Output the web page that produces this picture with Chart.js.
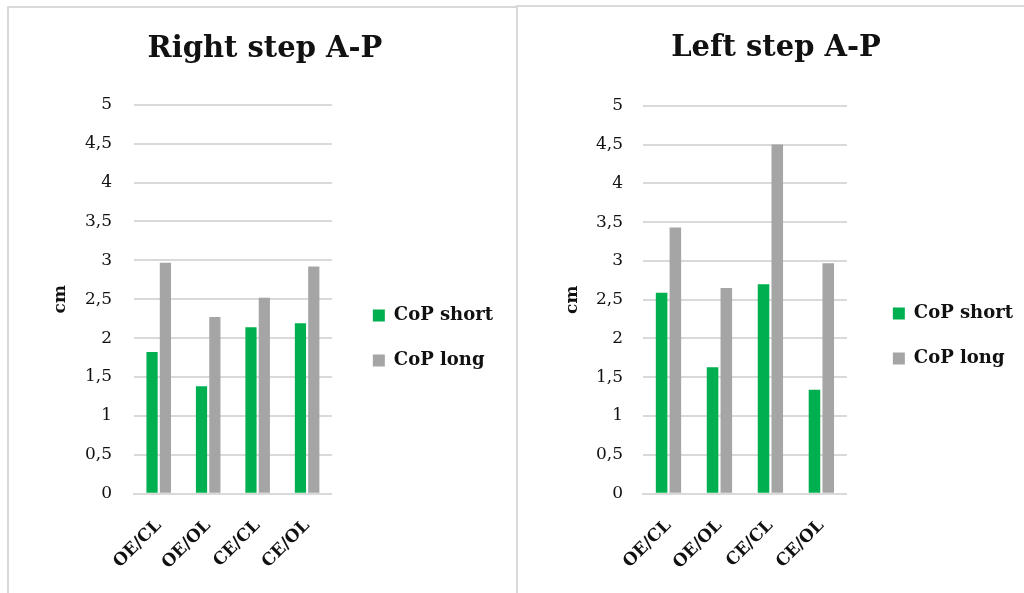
<!DOCTYPE html>
<html>
<head>
<meta charset="utf-8">
<script src="https://cdn.jsdelivr.net/npm/chart.js@4.4.0/dist/chart.umd.min.js"></script>
<style>
  body { margin: 0; background: #fff; width: 1024px; height: 593px; overflow: hidden; position: relative; }
  .panel { position: absolute; border: 2px solid #d9d9d9; background: #fff; box-sizing: border-box; }
  #p1 { left: 7px; top: 6px; width: 512px; height: 600px; }
  #p2 { left: 516px; top: 5px; width: 520px; height: 600px; }
  .panel canvas { position: absolute; left: 0; top: 0; }
</style>
</head>
<body>
<div class="panel" id="p1"><canvas id="chartRight" width="508" height="596"></canvas></div>
<div class="panel" id="p2"><canvas id="chartLeft" width="506" height="596"></canvas></div>
<script>
const categories = ['OE/CL', 'OE/OL', 'CE/CL', 'CE/OL'];
const seriesNames = ['CoP short', 'CoP long'];
const rightShort = [1.82, 1.38, 2.14, 2.19];
const rightLong = [2.97, 2.27, 2.52, 2.92];
const leftShort = [2.59, 1.63, 2.70, 1.34];
const leftLong = [3.43, 2.65, 4.50, 2.97];

const serif = "'DejaVu Serif', 'Liberation Serif', serif";

// lay: y axis width, offsets, gap before legend, layout padding
function makeChart(id, title, shortVals, longVals, lay) {
    const ctx = document.getElementById(id);
    const data = {
        labels: categories,
        datasets: [{
            label: seriesNames[0],
            data: shortVals,
            backgroundColor: '#00b050',
            categoryPercentage: 0.54,
            barPercentage: 0.84
        }, {
            label: seriesNames[1],
            data: longVals,
            backgroundColor: '#a5a5a5',
            categoryPercentage: 0.54,
            barPercentage: 0.84
        }]
    };

    const options = {
        responsive: false,
        animation: false,
        layout: { padding: lay.pad },
        plugins: {
            title: {
                display: true,
                text: title,
                color: '#111',
                font: { family: serif, size: 29, weight: 'bold' },
                padding: { top: 24, bottom: lay.titleGap }
            },
            legend: {
                position: 'right',
                align: 'center',
                maxWidth: 220,
                title: { display: true, text: '', font: { size: 1 }, padding: { top: lay.legendShift, bottom: lay.legendShift } },
                labels: {
                    color: '#111',
                    boxWidth: 12,
                    boxHeight: 12,
                    padding: 27,
                    font: { family: serif, size: 18, weight: 'bold' }
                }
            },
            tooltip: { enabled: false }
        },
        scales: {
            x: {
                grid: { display: false, drawTicks: false },
                border: { color: '#d9d9d9', width: 2 },
                ticks: {
                    color: '#111',
                    maxRotation: 45,
                    minRotation: 45,
                    padding: 22,
                    font: { family: serif, size: 17, weight: 'bold' }
                }
            },
            y: {
                min: 0,
                max: 5,
                afterFit: function(s) { s.width = lay.axisWidth; },
                grid: { color: '#d9d9d9', lineWidth: 2, drawTicks: false },
                border: { display: false },
                ticks: {
                    stepSize: 0.5,
                    color: '#111',
                    padding: lay.tickPad,
                    font: { family: serif, size: 17 },
                    callback: function(v) { return String(v).replace('.', ','); }
                },
                title: {
                    display: true,
                    text: 'cm',
                    color: '#111',
                    padding: { top: lay.cmOffset, bottom: 0 },
                    font: { family: serif, size: 17, weight: 'bold' }
                }
            },
            // empty spacer between the plot and the legend
            gap: {
                type: 'linear',
                position: 'right',
                afterFit: function(s) { s.width = lay.gap; },
                grid: { display: false },
                border: { display: false },
                ticks: { display: false }
            }
        }
    };

    return new Chart(ctx, { type: 'bar', data: data, options: options });
}

makeChart('chartRight', 'Right step A-P', rightShort, rightLong, {
    axisWidth: 107, tickPad: 22, cmOffset: 23, gap: 14, titleGap: 38, legendShift: 36,
    pad: { left: 18, right: 14, top: 0, bottom: 9 }
});
makeChart('chartLeft', 'Left step A-P', leftShort, leftLong, {
    axisWidth: 114, tickPad: 20, cmOffset: 33, gap: 19, titleGap: 40, legendShift: 34.5,
    pad: { left: 11, right: 1, top: 0, bottom: 8 }
});
</script>
</body>
</html>
